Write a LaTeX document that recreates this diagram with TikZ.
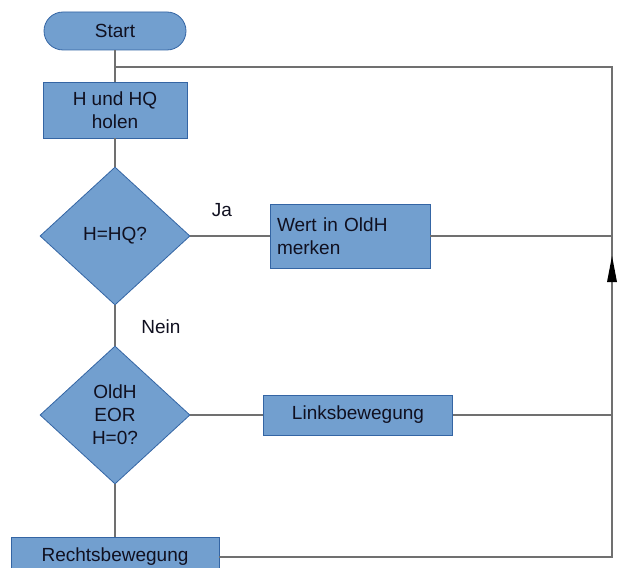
\documentclass[tikz,border=0pt]{standalone}
\usepackage{fontspec}
\setmainfont{Liberation Sans}
\usetikzlibrary{shapes.geometric,arrows.meta}
\definecolor{boxfill}{HTML}{729FCF}
\definecolor{boxline}{HTML}{3465A4}
\definecolor{conn}{HTML}{707070}
\definecolor{txt}{HTML}{101020}
\begin{document}
\begin{tikzpicture}[x=1pt,y=-1pt,
  every node/.style={font=\fontsize{19}{23}\selectfont, text=txt},
  proc/.style={draw=boxline, line width=0.8pt, fill=boxfill, inner sep=0pt, align=center},
  term/.style={proc, rounded corners=19pt},
  dec/.style={draw=boxline, line width=0.8pt, fill=boxfill, diamond, aspect=1.087, inner sep=0pt,
              minimum width=150pt, minimum height=138pt, align=center},
  lbl/.style={font=\fontsize{19}{23}\selectfont},
  conn/.style={draw=conn, line width=1.5pt}]
\clip (0,0) rectangle (623,567);
\useasboundingbox (0,0) rectangle (623,567);
\coordinate (r1) at (612,67);
\coordinate (r2) at (612,236);
\coordinate (r3) at (612,415);
\coordinate (r4) at (612,557);
\coordinate (j1) at (115,67);
\coordinate (atop) at (612,256);
% nodes
\node[term, minimum width=142pt, minimum height=38pt] (start) at (115,31) {Start};
\node[proc, minimum width=144pt, minimum height=56pt] (holen) at (115,110) {H und HQ\\holen};
\node[dec] (d1) at (115,236) {H=HQ?};
\node[proc, minimum width=160pt, minimum height=64pt, text width=146pt, align=left] (wert) at (350,236) {Wert in OldH\\merken};
\node[dec] (d2) at (115,415) {OldH\\EOR\\H=0?};
\node[proc, minimum width=189pt, minimum height=40pt] (links) at (358,415) {Linksbewegung};
\node[proc, minimum width=208pt, minimum height=40pt] (rechts) at (115,557) {Rechtsbewegung};
\node[lbl, anchor=center] (ja) at (222,210) {Ja};
\node[lbl, anchor=center] (nein) at (161,327) {Nein};
% connectors
\draw[conn] (start.south) -- (holen.north);
\draw[conn] (holen.south) -- (d1.north);
\draw[conn] (d1.south) -- (d2.north);
\draw[conn] (d2.south) -- (rechts.north);
\draw[conn] (d1.east) -- (wert.west);
\draw[conn] (wert.east) -- (r2);
\draw[conn] (d2.east) -- (links.west);
\draw[conn] (links.east) -- (r3);
\draw[conn] (rechts.east) -- (r4) -- (r1) -- (j1);
\draw[draw=none, fill=black] (atop) -- ++(-5,26) -- ++(10,0) -- cycle;
\end{tikzpicture}
\end{document}
